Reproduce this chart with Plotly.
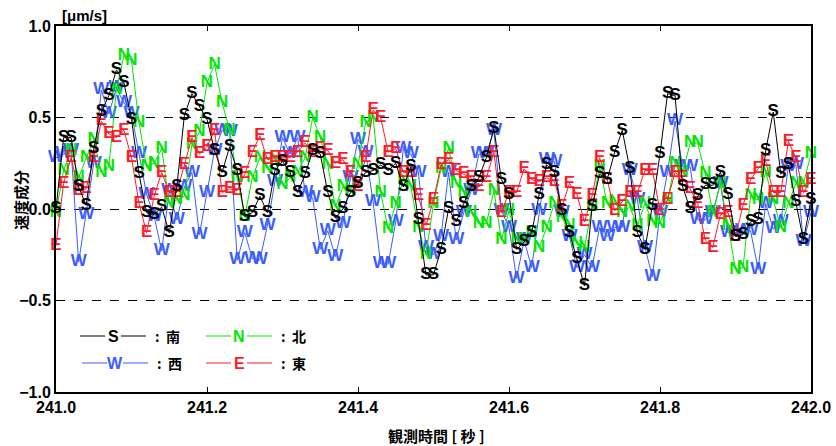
import numpy as np
import plotly.graph_objects as go

# Observation time axis: 241.00 s .. 242.00 s in 0.01 s steps
t_start = 241.0
t_step = 0.01

# Velocity components [um/s] for each direction
south = [0.00, 0.39, 0.39, 0.12, 0.02, 0.33, 0.53, 0.62, 0.76, 0.69,
         0.49, 0.19, -0.02, -0.03, 0.01, -0.13, 0.12, 0.51, 0.63, 0.56,
         0.49, 0.32, 0.20, 0.34, 0.21, -0.04, -0.02, 0.07, -0.02, 0.21,
         0.26, 0.20, 0.09, 0.19, 0.32, 0.30, 0.09, -0.05, 0.00, 0.09,
         0.14, 0.20, 0.21, 0.24, 0.21, 0.25, 0.12, 0.23, -0.06, -0.36,
         -0.36, -0.22, 0.00, -0.07, 0.03, 0.12, 0.17, 0.28, 0.44, 0.16,
         0.08, -0.22, -0.18, -0.13, 0.08, 0.24, 0.20, -0.01, -0.13, -0.27,
         -0.42, 0.01, 0.19, 0.16, 0.31, 0.43, 0.22, -0.13, -0.22, 0.02,
         0.30, 0.63, 0.62, 0.12, 0.00, 0.07, 0.13, 0.13, 0.20, 0.08,
         -0.15, -0.14, -0.07, -0.06, 0.32, 0.53, 0.19, 0.24, 0.04, -0.17,
         0.05]

north = [-0.02, 0.21, 0.32, 0.17, 0.28, 0.38, 0.20, 0.23, 0.65, 0.84,
         0.81, 0.47, 0.23, 0.25, 0.33, 0.03, 0.05, 0.07, 0.35, 0.42,
         0.69, 0.79, 0.58, 0.43, 0.17, -0.04, 0.17, 0.28, 0.22, 0.27,
         0.13, 0.17, 0.20, 0.28, 0.50, 0.39, 0.24, 0.01, 0.12, 0.10,
         0.24, 0.47, 0.50, 0.09, -0.11, 0.03, 0.16, 0.12, -0.10, -0.25,
         0.03, 0.22, 0.33, 0.14, 0.09, -0.02, -0.08, -0.08, 0.10, -0.17,
         -0.01, -0.17, -0.17, -0.13, -0.21, -0.10, 0.03, -0.05, -0.09, -0.19,
         -0.21, 0.01, 0.23, 0.03, 0.04, -0.02, 0.01, -0.09, 0.03, -0.07,
         -0.08, 0.05, 0.25, 0.20, 0.36, 0.36, 0.19, -0.02, 0.14, -0.09,
         -0.33, -0.32, 0.07, 0.05, 0.20, 0.05, -0.10, 0.03, 0.14, 0.14,
         0.30]

west = [0.28, 0.30, 0.32, -0.29, -0.03, 0.25, 0.65, 0.52, 0.66, 0.58,
        0.52, 0.30, 0.08, -0.04, -0.23, 0.10, -0.06, 0.12, 0.20, -0.14,
        0.09, 0.32, 0.43, 0.42, -0.28, -0.13, -0.27, -0.28, -0.09, 0.15,
        0.39, 0.30, 0.39, 0.09, 0.06, -0.22, -0.12, -0.26, -0.08, 0.17,
        0.38, 0.31, 0.04, -0.30, -0.30, -0.07, 0.33, 0.30, 0.20, -0.21,
        -0.25, -0.15, 0.20, -0.17, -0.02, 0.10, 0.30, 0.30, 0.43, -0.01,
        -0.10, -0.38, -0.17, -0.32, -0.01, 0.27, 0.26, -0.02, -0.15, -0.32,
        -0.25, -0.32, -0.10, -0.15, -0.10, -0.10, 0.21, 0.05, -0.21, -0.37,
        -0.02, 0.20, 0.48, 0.23, 0.23, -0.06, -0.06, -0.02, 0.14, -0.13,
        -0.13, -0.12, -0.12, -0.33, 0.03, -0.11, -0.07, 0.23, 0.24, -0.18,
        -0.02]

east = [-0.20, 0.14, 0.28, 0.10, 0.11, 0.28, 0.48, 0.41, 0.39, 0.43,
        0.28, 0.03, -0.13, 0.07, 0.20, 0.09, 0.09, 0.24, 0.39, 0.30,
        0.34, 0.43, 0.09, 0.11, 0.10, 0.19, 0.31, 0.40, 0.27, 0.28,
        0.28, 0.28, 0.31, 0.36, 0.31, 0.33, 0.32, 0.25, 0.27, 0.20,
        0.12, 0.28, 0.54, 0.50, 0.31, 0.33, 0.20, 0.20, 0.07, -0.09,
        0.05, 0.24, 0.27, 0.21, 0.19, 0.17, 0.12, 0.17, 0.31, -0.02,
        0.09, 0.09, 0.22, 0.16, 0.15, 0.17, 0.15, 0.01, 0.14, 0.08,
        -0.07, 0.07, 0.28, 0.16, -0.01, 0.04, 0.09, 0.09, 0.21, 0.21,
        -0.01, 0.05, 0.20, 0.17, 0.11, 0.03, -0.17, -0.21, -0.03, -0.02,
        -0.15, 0.02, 0.16, 0.22, 0.26, 0.09, 0.09, 0.37, 0.28, 0.09,
        0.16]

x_ticks = [241.0, 241.2, 241.4, 241.6, 241.8, 242.0]
y_ticks = [-1.0, -0.5, 0.0, 0.5, 1.0]

time = t_start + t_step * np.arange(len(south))

# series: (letter, values, colour, legend label)
series = [
    ("W", west, "#3a5dff", "西"),
    ("N", north, "#00e600", "北"),
    ("E", east, "#ff1a2a", "東"),
    ("S", south, "#000000", "南"),
]

LAT = "Liberation Sans, Arial, sans-serif"
CJK = "Noto Sans CJK JP, sans-serif"

fig = go.Figure()
for letter, vals, col, _ in series:
    fig.add_trace(go.Scatter(
        x=time, y=vals, mode="lines+text",
        text=["<b>%s</b>" % letter] * len(vals), textposition="middle center",
        textfont=dict(family=LAT, size=17, color=col),
        line=dict(color=col, width=1),
        cliponaxis=False, showlegend=False,
    ))

# Pixel helpers for placing the hand-built legend and titles
L, R, T, B = 56, 811, 26, 392

def px_x(p):
    return (p - L) / float(R - L)

def px_y(p):
    return (B - p) / float(B - T)

legend_items = [
    ("S", "#000000", "南", 80, 336),
    ("N", "#00e600", "北", 206, 336),
    ("W", "#3a5dff", "西", 82, 363),
    ("E", "#ff1a2a", "東", 206, 363),
]
shapes = []
annotations = []
for letter, col, label, x0, yy in legend_items:
    for a, b in ((x0, x0 + 25), (x0 + 41, x0 + 66)):
        shapes.append(dict(type="line", xref="paper", yref="paper",
                           x0=px_x(a), x1=px_x(b), y0=px_y(yy), y1=px_y(yy),
                           line=dict(color=col, width=1)))
    annotations.append(dict(xref="paper", yref="paper", x=px_x(x0 + 33), y=px_y(yy),
                            text="<b>%s</b>" % letter, showarrow=False,
                            font=dict(family=LAT, size=16, color=col),
                            xanchor="center", yanchor="middle"))
    annotations.append(dict(xref="paper", yref="paper", x=px_x(x0 + 73), y=px_y(yy),
                            text="<b>:  %s</b>" % label, showarrow=False,
                            font=dict(family=CJK, size=14, color="black"),
                            xanchor="left", yanchor="middle"))

# Unit label above the y axis
annotations.append(dict(xref="paper", yref="paper", x=px_x(60), y=px_y(15),
                        text="<b>[μm/s]</b>", showarrow=False,
                        font=dict(family=LAT, size=15, color="black"),
                        xanchor="left", yanchor="middle"))
# Axis titles
annotations.append(dict(xref="paper", yref="paper", x=px_x(437), y=px_y(436),
                        text="<b>観測時間 [ 秒 ]</b>", showarrow=False,
                        font=dict(family=CJK, size=15, color="black"),
                        xanchor="center", yanchor="middle"))
annotations.append(dict(xref="paper", yref="paper", x=px_x(20), y=px_y(200),
                        text="<b>速度成分</b>", showarrow=False, textangle=-90,
                        font=dict(family=CJK, size=15, color="black"),
                        xanchor="center", yanchor="middle"))

fig.update_layout(
    width=836, height=446,
    margin=dict(l=L, r=836 - R, t=T, b=446 - B),
    paper_bgcolor="white", plot_bgcolor="white",
    shapes=shapes, annotations=annotations,
    xaxis=dict(
        range=[241.0, 242.0], tickvals=x_ticks, tickformat=".1f",
        ticks="inside", ticklen=5, tickwidth=1, tickcolor="black",
        showline=True, linecolor="black", linewidth=2, mirror="ticks",
        showgrid=False, zeroline=False, automargin=False,
        tickfont=dict(family=LAT, size=16, color="black", weight="bold"),
    ),
    yaxis=dict(
        range=[-1.0, 1.0], tickvals=y_ticks, tickformat=".1f",
        ticks="inside", ticklen=5, tickwidth=1, tickcolor="black",
        showline=True, linecolor="black", linewidth=2, mirror="ticks",
        showgrid=True, gridcolor="black", griddash="dash", gridwidth=1,
        zeroline=False, automargin=False,
        tickfont=dict(family=LAT, size=16, color="black", weight="bold"),
    ),
)

fig.write_html("out.html")
